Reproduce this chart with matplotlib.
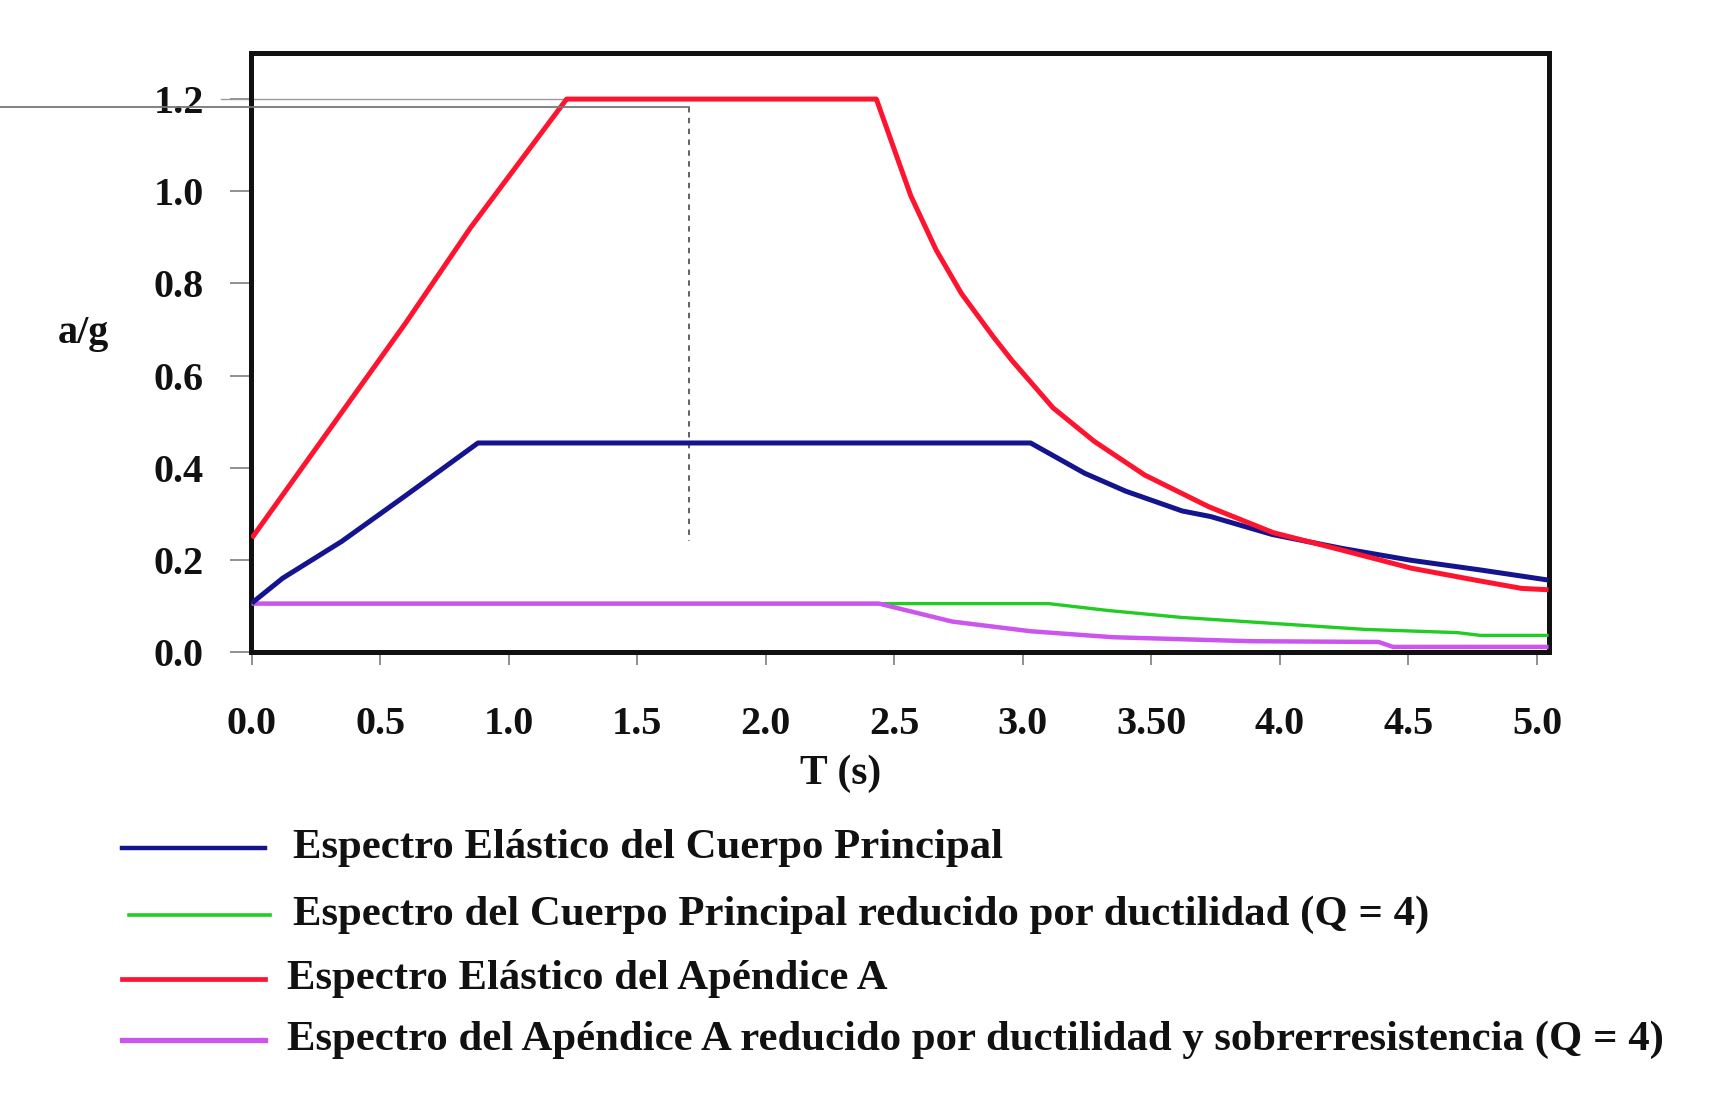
import matplotlib
matplotlib.use("Agg")
import matplotlib.pyplot as plt
from matplotlib.lines import Line2D

# ---- data ----
T_blue = [0.0, 0.12, 0.35, 0.60, 0.88, 3.03, 3.24, 3.40, 3.62, 3.73, 3.97, 4.24, 4.51, 4.78, 5.045]
A_blue = [0.106, 0.16, 0.24, 0.34, 0.4536, 0.4536, 0.388, 0.349, 0.306, 0.294, 0.255, 0.225, 0.199, 0.178, 0.156]

T_red = [0.0, 0.60, 0.85, 1.225, 2.43, 2.50, 2.564, 2.662, 2.761, 2.885, 2.957, 3.117, 3.278,
         3.474, 3.724, 3.974, 4.242, 4.51, 4.76, 4.94, 5.045]
A_red = [0.247, 0.715, 0.92, 1.2, 1.2, 1.09, 0.99, 0.873, 0.778, 0.684, 0.633, 0.530, 0.457,
         0.384, 0.315, 0.259, 0.221, 0.182, 0.156, 0.138, 0.135]

T_green = [0.0, 3.10, 3.332, 3.617, 3.974, 4.33, 4.69, 4.78, 5.045]
A_green = [0.105, 0.105, 0.090, 0.075, 0.062, 0.049, 0.042, 0.036, 0.036]

T_purple = [0.0, 2.44, 2.725, 3.03, 3.35, 3.884, 4.384, 4.44, 5.045]
A_purple = [0.105, 0.105, 0.066, 0.045, 0.032, 0.0234, 0.0217, 0.011, 0.011]

x_ticks = [0.0, 0.5, 1.0, 1.5, 2.0, 2.5, 3.0, 3.5, 4.0, 4.5, 5.0]
x_tick_labels = ["0.0", "0.5", "1.0", "1.5", "2.0", "2.5", "3.0", "3.50", "4.0", "4.5", "5.0"]
y_ticks = [0.0, 0.2, 0.4, 0.6, 0.8, 1.0, 1.2]
y_tick_labels = ["0.0", "0.2", "0.4", "0.6", "0.8", "1.0", "1.2"]

legend_labels = [
    "Espectro Elástico del Cuerpo Principal",
    "Espectro del Cuerpo Principal reducido por ductilidad (Q = 4)",
    "Espectro Elástico del Apéndice A",
    "Espectro del Apéndice A reducido por ductilidad y sobrerresistencia (Q = 4)",
]

c_blue = "#14148f"
c_red = "#ff1430"
c_green = "#22cc22"
c_purple = "#cc55ee"

FONT = "Liberation Serif"

fig = plt.figure(figsize=(17.25, 10.93), dpi=100)
ax = fig.add_axes([0.1455, 0.4035, 0.898 - 0.1455, 0.9515 - 0.4035])

ax.plot(T_green, A_green, color=c_green, lw=2.4, solid_capstyle="butt", zorder=3)
ax.plot(T_purple, A_purple, color=c_purple, lw=3.2, solid_capstyle="butt", zorder=3)
ax.plot(T_blue, A_blue, color=c_blue, lw=3.6, solid_capstyle="butt", zorder=4)
ax.plot(T_red, A_red, color=c_red, lw=3.6, solid_capstyle="butt", zorder=5)

# stray reference lines seen in the picture
ax.plot([-1.2, 1.70], [1.183, 1.183], color="#777777", lw=1.3, clip_on=False, zorder=6)
ax.plot([-0.12, 1.225], [1.2, 1.2], color="#999999", lw=1.0, clip_on=False, zorder=2)
ax.plot([1.70, 1.70], [1.183, 0.241], color="#555555", lw=1.3, ls=(0, (3, 3)), zorder=2)

ax.set_xlim(-0.003, 5.047)
ax.set_ylim(0.0, 1.3)

ax.set_xticks(x_ticks)
ax.set_xticklabels(x_tick_labels)
ax.set_yticks(y_ticks)
ax.set_yticklabels(y_tick_labels)

for sp in ax.spines.values():
    sp.set_linewidth(3.6)
    sp.set_color("#111111")

ax.tick_params(axis="x", direction="out", length=9, width=1.3, color="#888888", pad=30)
ax.tick_params(axis="y", direction="out", length=15, width=1.3, color="#888888", pad=19)
for lab in ax.get_xticklabels() + ax.get_yticklabels():
    lab.set_fontfamily(FONT)
    lab.set_fontweight("bold")
    lab.set_fontsize(29)
    lab.set_color("#111111")

fig.text(83 / 1725, 1 - 334 / 1093, "a/g", family=FONT, weight="bold", fontsize=29,
         ha="center", va="center", color="#111111")
fig.text(841 / 1725, 1 - 774 / 1093, "T (s)", family=FONT, weight="bold", fontsize=30,
         ha="center", va="center", color="#111111")

# legend drawn manually below the chart
leg_colors = [c_blue, c_green, c_red, c_purple]
leg_lw = [3.2, 2.6, 3.4, 3.8]
leg_y = [848, 915, 979, 1040]
leg_x0 = [122, 129, 122, 122]
leg_x1 = [265, 270, 265, 265]
leg_tx = [293, 293, 287, 287]
for col, lw, y, x0, x1, tx, lab in zip(leg_colors, leg_lw, leg_y, leg_x0, leg_x1, leg_tx, legend_labels):
    fig.add_artist(Line2D([x0 / 1725, x1 / 1725], [1 - y / 1093, 1 - y / 1093],
                          color=col, lw=lw, transform=fig.transFigure))
    fig.text(tx / 1725, 1 - y / 1093, lab, family=FONT, weight="bold", fontsize=30.8,
             ha="left", va="center", color="#111111")

fig.savefig("out.png", dpi=100)
